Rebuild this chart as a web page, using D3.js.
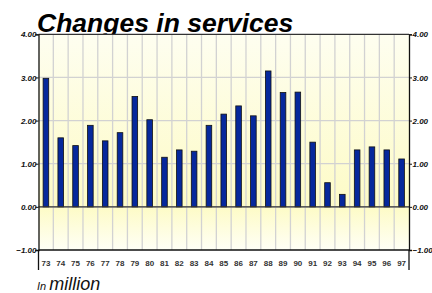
<!DOCTYPE html>
<html>
<head>
<meta charset="utf-8">
<script src="https://cdn.jsdelivr.net/npm/d3@7/dist/d3.min.js"></script>
<style>
  body { margin: 0; background: #fff; }
  svg { display: block; font-family: "Liberation Sans", Arial, sans-serif; }
</style>
</head>
<body>
<script>
// categories (years) and yearly change, in million
var years = ["73","74","75","76","77","78","79","80","81","82","83","84","85",
             "86","87","88","89","90","91","92","93","94","95","96","97"];
var changes = [2.98, 1.60, 1.42, 1.89, 1.53, 1.72, 2.56, 2.02, 1.15, 1.32, 1.29, 1.89, 2.15,
               2.34, 2.11, 3.15, 2.65, 2.66, 1.50, 0.56, 0.29, 1.32, 1.39, 1.32, 1.11];
var yTicks = [-1, 0, 1, 2, 3, 4];

var width = 432, height = 293;
//plot box (note: "top" is reserved on window)
var pL = 38.5, pR = 409, pT = 34.3, pB = 250;

var svg = d3.select("body").append("svg").attr("width", width).attr("height", height);

// title first so the plot covers the descenders
svg.append("text").attr("x", 37).attr("y", 31.5)
  .style("font-size", "26.5px").style("font-weight", "bold").style("font-style", "italic")
  .text("Changes in services");

var x = d3.scaleBand().domain(years).range([pL, pR]).padding(0);
var y = d3.scaleLinear().domain([-1, 4]).range([pB, pT]);

//plot background gradient
var grad = svg.append("defs").append("linearGradient").attr("id", "bg")
  .attr("x1", 0).attr("y1", 0).attr("x2", 0).attr("y2", 1);
grad.append("stop").attr("offset", "0%").attr("stop-color", "#fefef0");
grad.append("stop").attr("offset", "80%").attr("stop-color", "#fdfbc6");
grad.append("stop").attr("offset", "100%").attr("stop-color", "#fffff6");

svg.append("rect").attr("x", pL).attr("y", pT)
  .attr("width", pR - pL).attr("height", pB - pT).attr("fill", "url(#bg)");

// grid
svg.append("g").selectAll("line").data(years.slice(1)).enter().append("line")
  .attr("x1", function(d) { return x(d); }).attr("x2", function(d) { return x(d); })
  .attr("y1", pT).attr("y2", pB)
  .attr("stroke", "#d2d2d2").attr("stroke-width", 1.3);
svg.append("g").selectAll("line").data(yTicks.slice(1, -1)).enter().append("line")
  .attr("x1", pL).attr("x2", pR)
  .attr("y1", function(d) { return y(d); }).attr("y2", function(d) { return y(d); })
  .attr("stroke", "#d2d2d2").attr("stroke-width", 1.3);

// bars
var bw = 5.6;
svg.append("g").selectAll("rect").data(changes).enter().append("rect")
  .attr("x", function(d, i) { return x(years[i]) + x.bandwidth() / 2 - bw / 2; })
  .attr("y", function(d) { return y(Math.max(0, d)); })
  .attr("width", bw)
  .attr("height", function(d) { return Math.abs(y(d) - y(0)); })
  .attr("fill", "#06289c").attr("stroke", "#111").attr("stroke-width", 0.8);

// zero line and frame
svg.append("line").attr("x1", pL).attr("x2", pR).attr("y1", y(0)).attr("y2", y(0))
  .attr("stroke", "#333").attr("stroke-width", 1.3);
svg.append("line").attr("x1", pL).attr("x2", pR).attr("y1", pT).attr("y2", pT)
  .attr("stroke", "#333").attr("stroke-width", 1.2);
svg.append("line").attr("x1", pL).attr("x2", pR).attr("y1", pB).attr("y2", pB)
  .attr("stroke", "#111").attr("stroke-width", 1.3);

var fmt = d3.format(".2f");
var yl = d3.axisLeft(y).tickValues(yTicks).tickFormat(fmt).tickSize(3);
var yr = d3.axisRight(y).tickValues(yTicks).tickFormat(fmt).tickSize(3);

function styleAxis(g) {
  g.attr("font-family", null).attr("font-size", null);
  g.select(".domain").attr("stroke", "#111").attr("stroke-width", 1.3);
  g.selectAll(".tick line").attr("stroke", "#111");
  g.selectAll(".tick text").style("font-size", "8px").style("font-weight", "bold")
    .style("font-style", "italic").attr("fill", "#111");
}
svg.append("g").attr("transform", "translate(" + pL + ",0)").call(yl).call(styleAxis)
  .selectAll(".tick text").attr("x", -2);
svg.append("g").attr("transform", "translate(" + pR + ",0)").call(yr).call(styleAxis)
  .selectAll(".tick text").attr("x", 3.5);

// category row below the plot
svg.append("line").attr("x1", pL).attr("x2", pL).attr("y1", pB).attr("y2", 270)
  .attr("stroke", "#111").attr("stroke-width", 1.3);
svg.append("line").attr("x1", pR).attr("x2", pR).attr("y1", pB).attr("y2", 270)
  .attr("stroke", "#111").attr("stroke-width", 1.3);
svg.append("g").selectAll("text").data(years).enter().append("text")
  .attr("x", function(d) { return x(d) + x.bandwidth() / 2; })
  .attr("y", 265.5).attr("text-anchor", "middle")
  .style("font-size", "8px").style("font-weight", "bold").attr("fill", "#333")
  .text(function(d) { return d; });

// unit note
var note = svg.append("text").attr("x", 37).attr("y", 290).style("font-style", "italic").attr("fill", "#111");
note.append("tspan").style("font-size", "11px").text("In ");
note.append("tspan").style("font-size", "18px").text("million");
</script>
</body>
</html>
